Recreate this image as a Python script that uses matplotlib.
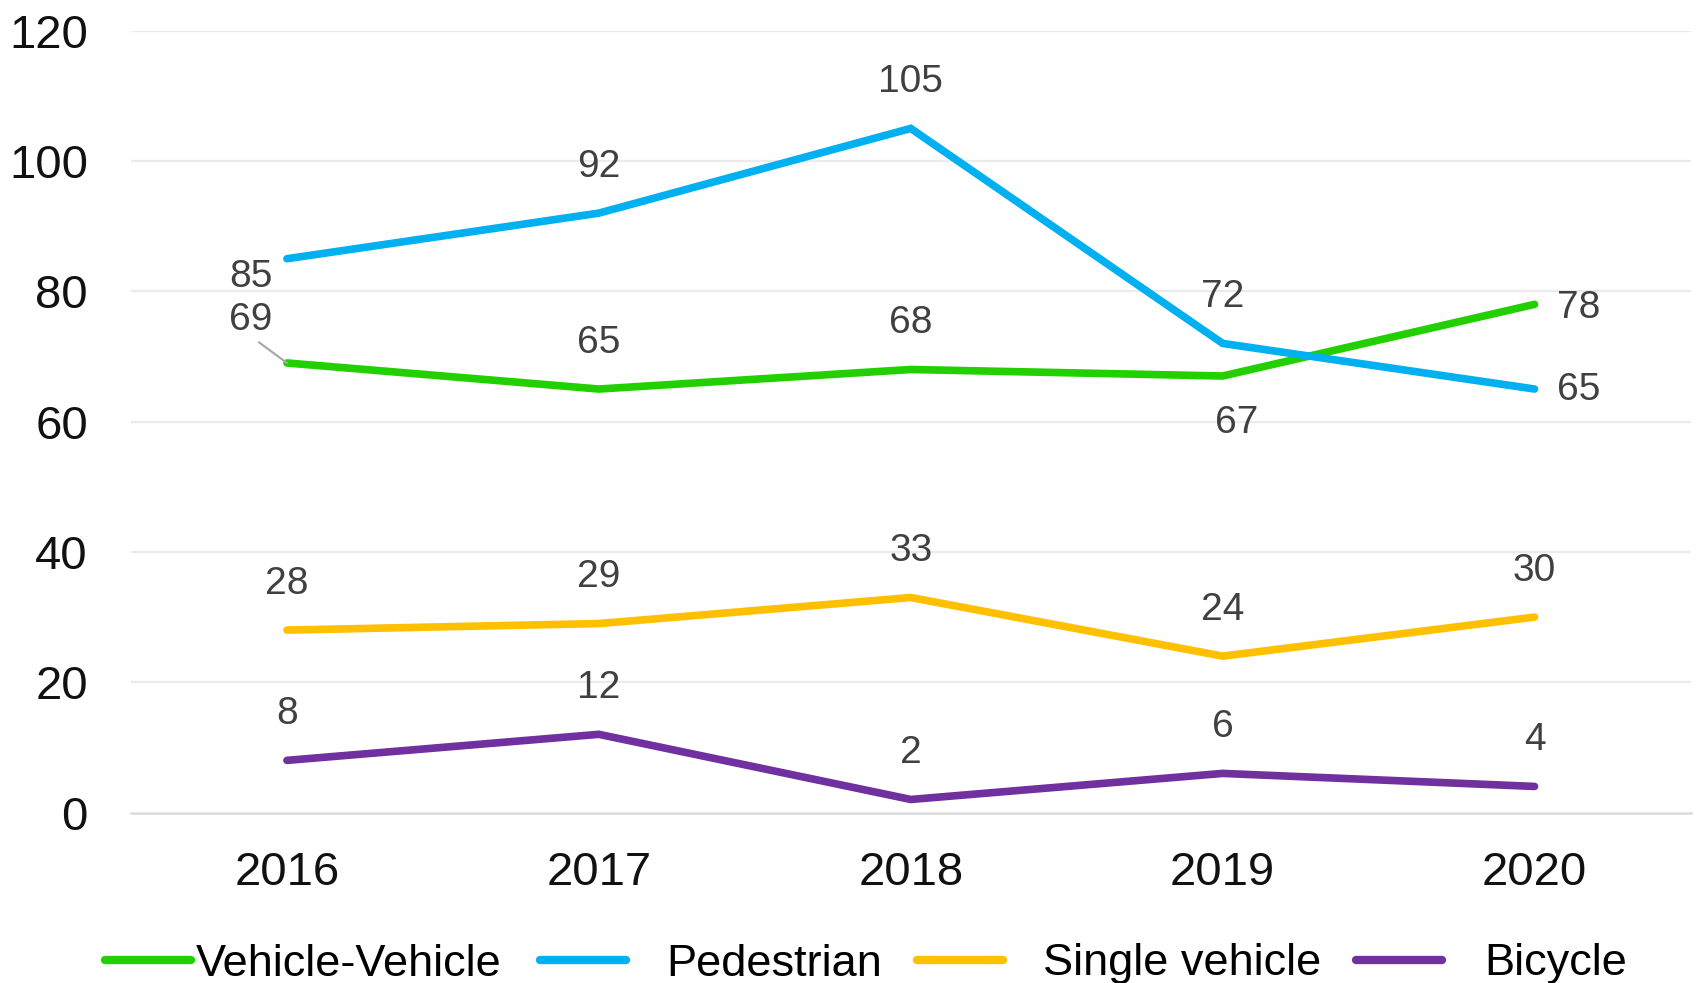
import matplotlib
matplotlib.use("Agg")
import matplotlib.pyplot as plt
from matplotlib.lines import Line2D

plt.rcParams['font.family'] = ['Liberation Sans', 'DejaVu Sans']

years = ["2016", "2017", "2018", "2019", "2020"]
vehicle_vehicle = [69, 65, 68, 67, 78]
pedestrian = [85, 92, 105, 72, 65]
single_vehicle = [28, 29, 33, 24, 30]
bicycle = [8, 12, 2, 6, 4]

series_names = ["Vehicle-Vehicle", "Pedestrian", "Single vehicle", "Bicycle"]
series_values = [vehicle_vehicle, pedestrian, single_vehicle, bicycle]
colors = ["#22D000", "#00B0F0", "#FFC000", "#7030A0"]

# label offsets (points) that differ from the default "above" placement
label_offsets = {
    (0, 0): (-26, 31),   # Vehicle-Vehicle 2016 (with leader line)
    (0, 3): (10, -34),   # Vehicle-Vehicle 2019 below
    (0, 4): (32, -3),    # Vehicle-Vehicle 2020 right
    (1, 0): (-26, -13),  # Pedestrian 2016
    (1, 4): (32, -1),    # Pedestrian 2020 right
}
default_offset = (0, 33.4)

W, H = 1698, 983
fig = plt.figure(figsize=(W / 100, H / 100), dpi=100)
ax = fig.add_axes([131 / W, 1 - 812.5 / H, (1690.5 - 131) / W, (812.5 - 30.7) / H])

x = list(range(len(years)))
handles = []
for si, (name, vals, c) in enumerate(zip(series_names, series_values, colors)):
    ln, = ax.plot(x, vals, color=c, lw=5.5, solid_capstyle='round',
                  solid_joinstyle='miter', zorder=3)
    handles.append(ln)
    for i, v in enumerate(vals):
        off = label_offsets.get((si, i), default_offset)
        kw = {}
        if (si, i) == (0, 0):
            kw = dict(arrowprops=dict(arrowstyle='-', color='#A6A6A6', lw=1.5,
                                      relpos=(0.55, 0.0), shrinkA=2, shrinkB=0))
        ax.annotate(str(v), (i, v), xytext=off, textcoords='offset points',
                    ha='center', va='center', fontsize=28, color='#404040',
                    zorder=4, **kw)

ax.set_xlim(-0.5, 4.5)
ax.set_ylim(0, 120)
ax.set_yticks(range(0, 121, 20))
ax.set_xticks(x)
ax.set_xticklabels(years)
ax.tick_params(axis='y', length=0, pad=31, labelsize=34, labelcolor='#111111')
ax.tick_params(axis='x', length=0, pad=28, labelsize=34, labelcolor='#111111')

ax.grid(axis='y', color='#EBEBEB', lw=1.6, zorder=0)
for s in ['top', 'right', 'left']:
    ax.spines[s].set_visible(False)
ax.spines['bottom'].set_color('#D9D9D9')
ax.spines['bottom'].set_linewidth(1.8)
ax.spines['bottom'].set_zorder(1)

# legend entries placed individually
leg_x = [105, 540, 917, 1356]
leg_pad = [0.11, 0.90, 0.90, 0.95]
for h, name, lx, pad in zip(handles, series_names, leg_x, leg_pad):
    proxy = Line2D([], [], color=h.get_color(), lw=6, solid_capstyle='round')
    lg = fig.legend([proxy], [name], loc='center left',
                    bbox_to_anchor=(lx / W, 1 - 964 / H), frameon=False,
                    fontsize=32.5, handlelength=1.9, handletextpad=pad,
                    borderpad=0, borderaxespad=0)

fig.savefig("out.png", dpi=100, facecolor='white')
